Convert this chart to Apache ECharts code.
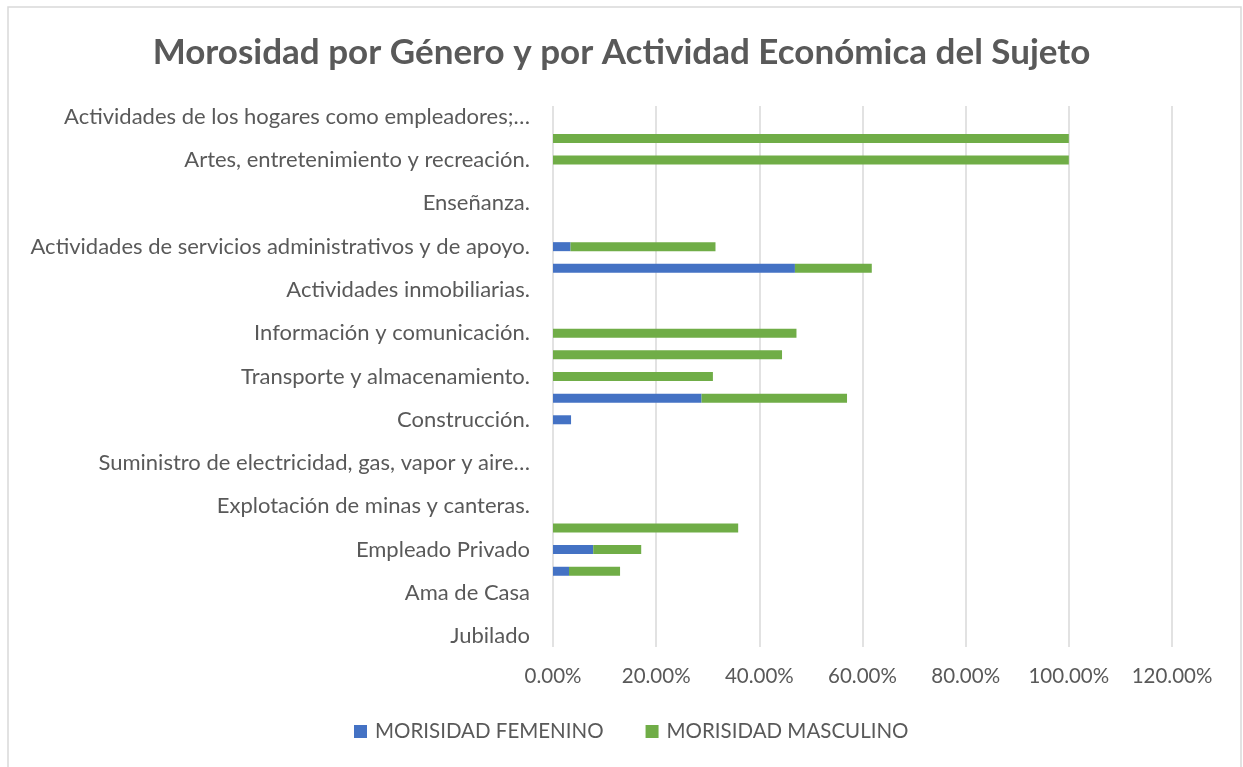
<!DOCTYPE html>
<html>
<head>
<meta charset="utf-8">
<script src="https://cdn.jsdelivr.net/npm/echarts@6/dist/echarts.min.js"></script>
<style>
  html, body { margin: 0; padding: 0; background: #fff; }
  #chart { width: 1243px; height: 767px; }
</style>
</head>
<body>
<div id="chart"></div>
<script>
// categories bottom -> top (every other label is hidden by the axis, like in Excel)
const categories = [
  'Jubilado',
  'Estudiante',
  'Ama de Casa',
  'Empleado Público',
  'Empleado Privado',
  'Agricultura, ganadería, silvicultura y pesca.',
  'Explotación de minas y canteras.',
  'Industrias manufactureras.',
  'Suministro de electricidad, gas, vapor y aire…',
  'Distribución de agua; alcantarillado y saneamiento.',
  'Construcción.',
  'Comercio al por mayor y al por menor.',
  'Transporte y almacenamiento.',
  'Actividades de alojamiento y de servicio de comidas.',
  'Información y comunicación.',
  'Actividades financieras y de seguros.',
  'Actividades inmobiliarias.',
  'Actividades profesionales, científicas y técnicas.',
  'Actividades de servicios administrativos y de apoyo.',
  'Administración pública y defensa.',
  'Enseñanza.',
  'Actividades de atención de la salud humana.',
  'Artes, entretenimiento y recreación.',
  'Otras actividades de servicios.',
  'Actividades de los hogares como empleadores;…'
];

// percentages
const femenino = [0, 0, 0, 3.1, 7.8, 0, 0, 0, 0, 0, 3.5, 28.8, 0, 0, 0, 0, 0, 46.9, 3.4, 0, 0, 0, 0, 0, 0];
const masculino = [0, 0, 0, 9.9, 9.3, 35.9, 0, 0, 0, 0, 0, 28.2, 31.0, 44.4, 47.2, 0, 0, 14.9, 28.1, 0, 0, 0, 100, 100, 0];

const xTicks = { min: 0, max: 120, interval: 20 };

const textColor = '#595959';
const font = 'Lato';

const chart = echarts.init(document.getElementById('chart'));

const option = {
  animation: false,
  title: {
    text: 'Morosidad por Género y por Actividad Económica del Sujeto',
    left: 'center',
    top: 30,
    textStyle: { color: textColor, fontSize: 35, fontWeight: 'bold', fontFamily: font }
  },
  graphic: [{
    type: 'rect',
    shape: { x: 8, y: 7, width: 1233, height: 800 },
    style: { fill: 'none', stroke: '#d9d9d9', lineWidth: 1.5 },
    silent: true
  }],
  legend: {
    left: 349,
    top: 716,
    itemWidth: 13,
    itemHeight: 13,
    itemGap: 42,
    icon: 'rect',
    textStyle: { color: textColor, fontSize: 20.5, fontFamily: font, padding: [0, 0, 0, 3] },
    data: ['MORISIDAD FEMENINO', 'MORISIDAD MASCULINO']
  },
  grid: { left: 553, right: 71, top: 106, bottom: 120 },
  xAxis: {
    type: 'value',
    min: xTicks.min,
    max: xTicks.max,
    interval: xTicks.interval,
    axisLine: { show: false },
    axisTick: { show: false },
    splitLine: { lineStyle: { color: '#d9d9d9', width: 1.5 } },
    axisLabel: {
      color: textColor,
      fontSize: 20.5,
      fontFamily: font,
      margin: 19,
      formatter: v => v.toFixed(2) + '%'
    }
  },
  yAxis: {
    type: 'category',
    data: categories,
    axisLine: { show: false },
    axisTick: { show: false },
    axisLabel: {
      interval: 1,
      color: textColor,
      fontSize: 22,
      fontFamily: font,
      margin: 23
    }
  },
  series: [
    {
      name: 'MORISIDAD FEMENINO',
      type: 'bar',
      stack: 'total',
      barWidth: 9,
      itemStyle: { color: '#4472C4' },
      data: femenino
    },
    {
      name: 'MORISIDAD MASCULINO',
      type: 'bar',
      stack: 'total',
      barWidth: 9,
      itemStyle: { color: '#70AD47' },
      data: masculino
    }
  ]
};

chart.setOption(option);
</script>
</body>
</html>
